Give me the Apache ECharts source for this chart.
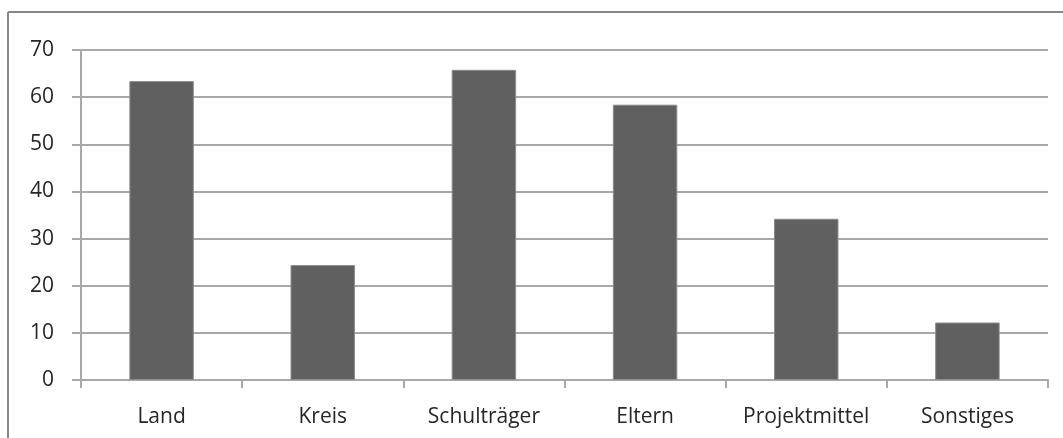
<!doctype html>
<html lang="de">
<head>
    <meta charset="UTF-8">
    <script src="https://cdn.jsdelivr.net/npm/echarts@6/dist/echarts.min.js"></script>
    <title>Finanzierung</title>
    <style>
        html, body { margin: 0; padding: 0; background: #fff; }
        #chart { width: 1063px; height: 438px; }
    </style>
</head>
<body>
<div id="chart"></div>
<script>
    // Daten
    var kategorien = ['Land', 'Kreis', 'Schulträger', 'Eltern', 'Projektmittel', 'Sonstiges'];
    var werte = [63.4, 24.4, 65.8, 58.4, 34.2, 12.2];
    var yMin = 0, yMax = 70, yStep = 10;

    var myChart = echarts.init(document.getElementById('chart'));
    var lineColor = '#a8a8a8';
    var textColor = '#262626';
    var font = '"Open Sans", sans-serif';

    var option = {
        backgroundColor: '#fff',
        animation: false,
        graphic: [
            // Rahmen oben und links
            { type: 'line', shape: { x1: 8, y1: 12, x2: 1063, y2: 12 }, style: { stroke: '#878787', lineWidth: 2 } },
            { type: 'line', shape: { x1: 8, y1: 12, x2: 8, y2: 438 }, style: { stroke: '#878787', lineWidth: 2 } }
        ],
        grid: { left: 81, right: 15, top: 50, bottom: 58, containLabel: false },
        xAxis: {
            type: 'category',
            data: kategorien,
            axisLine: { lineStyle: { color: lineColor, width: 2 } },
            axisTick: { show: true, interval: 0, length: 8, lineStyle: { color: lineColor, width: 2 } },
            axisLabel: { interval: 0, hideOverlap: false, color: textColor, fontSize: 21, fontFamily: font, margin: 27 }
        },
        yAxis: {
            type: 'value',
            min: yMin,
            max: yMax,
            interval: yStep,
            axisLine: { show: true, lineStyle: { color: lineColor, width: 2 } },
            axisTick: { show: true, length: 9, lineStyle: { color: lineColor, width: 2 } },
            splitLine: { lineStyle: { color: lineColor, width: 2 } },
            axisLabel: { color: textColor, fontSize: 21, fontFamily: font, margin: 27 }
        },
        series: [{
            type: 'bar',
            data: werte,
            barWidth: '40%',
            itemStyle: { color: '#606060', borderColor: '#8c8c8c', borderWidth: 1 }
        }]
    };
    myChart.setOption(option);
</script>
</body>
</html>
